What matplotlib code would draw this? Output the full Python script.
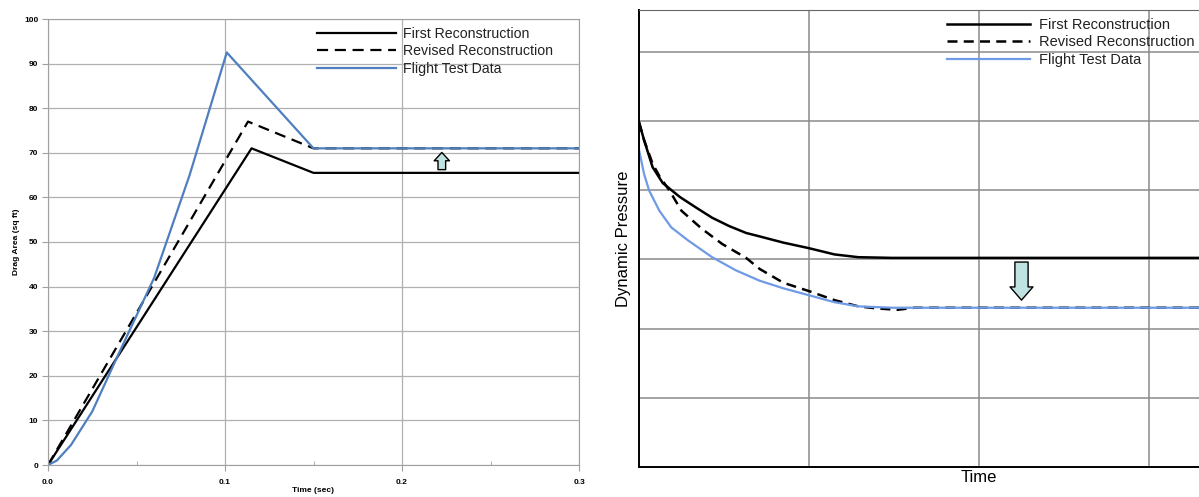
import matplotlib.pyplot as plt
from matplotlib.ticker import MultipleLocator

plt.rcParams['font.family'] = ['Liberation Sans', 'DejaVu Sans']

# ---- left chart: drag area vs time ----
t_first = [0.0, 0.115, 0.150, 0.300]
a_first = [0.0, 71.0, 65.5, 65.5]

t_rev = [0.0, 0.113, 0.150, 0.300]
a_rev = [0.0, 77.0, 71.0, 71.0]

t_flight = [0.0, 0.005, 0.013, 0.025, 0.040, 0.060, 0.080, 0.101, 0.150, 0.300]
a_flight = [0.0, 1.0, 4.5, 12.0, 25.0, 42.0, 65.0, 92.5, 71.0, 71.0]

arrow_left_x = 0.2225
arrow_left_from = 65.6
arrow_left_to = 70.7

# ---- right chart: dynamic pressure vs time (no units) ----
t2_first = [0.0, 0.03, 0.08, 0.14, 0.24, 0.34, 0.43, 0.53, 0.63, 0.71, 0.85,
            1.00, 1.15, 1.29, 1.49, 3.40]
q_first = [4.98, 4.72, 4.33, 4.10, 3.90, 3.74, 3.60, 3.48, 3.38, 3.33, 3.24,
           3.16, 3.07, 3.03, 3.02, 3.02]

t2_rev = [0.0, 0.03, 0.08, 0.12, 0.18, 0.25, 0.37, 0.49, 0.63, 0.71, 0.85,
          1.00, 1.15, 1.29, 1.40, 1.52, 1.62, 3.40]
q_rev = [4.98, 4.72, 4.38, 4.20, 3.99, 3.70, 3.44, 3.22, 3.02, 2.86, 2.66,
         2.54, 2.41, 2.32, 2.29, 2.27, 2.30, 2.30]

t2_flight = [0.0, 0.03, 0.06, 0.12, 0.19, 0.29, 0.43, 0.57, 0.71, 0.85,
             1.00, 1.15, 1.29, 1.49, 3.40]
q_flight = [4.58, 4.23, 3.99, 3.70, 3.46, 3.27, 3.03, 2.84, 2.69, 2.58,
            2.48, 2.38, 2.32, 2.30, 2.30]

arrow_right_x = 2.25
arrow_right_from = 3.0
arrow_right_to = 2.37

labels = ['First Reconstruction', 'Revised Reconstruction', 'Flight Test Data']
arrow_fill = '#bfe3e0'

fig = plt.figure(figsize=(11.99, 4.97), dpi=100)

# left axes
ax1 = fig.add_axes([48/1199, 1-465/497, 531/1199, 446/497])
ax1.plot(t_first, a_first, color='black', lw=1.6, label=labels[0])
ax1.plot(t_rev, a_rev, color='black', lw=1.6, ls=(0, (5, 3)), label=labels[1])
ax1.plot(t_flight, a_flight, color='#4f7fbf', lw=1.6, label=labels[2])
ax1.set_xlim(0, 0.3)
ax1.set_ylim(0, 100)
ax1.set_xticks([0.0, 0.1, 0.2, 0.3])
ax1.set_xticklabels(['0.0', '0.1', '0.2', '0.3'])
ax1.set_xticks([0.05, 0.15, 0.25], minor=True)
ax1.yaxis.set_major_locator(MultipleLocator(10))
ax1.grid(True, color='#b0b0b0', lw=0.9)
ax1.set_axisbelow(True)
for s in ax1.spines.values():
    s.set_color('#a0a0a0')
ax1.tick_params(axis='both', which='major', labelsize=6, color='#a0a0a0', length=4)
ax1.tick_params(axis='x', which='minor', color='#a0a0a0', length=3, direction='in')
ax1.tick_params(axis='x', which='major', direction='out', pad=6)
ax1.tick_params(axis='y', direction='out', pad=3)
for lab in ax1.get_xticklabels() + ax1.get_yticklabels():
    lab.set_fontweight('bold')
ax1.set_xlabel('Time (sec)', fontsize=6, fontweight='bold', labelpad=1)
ax1.set_ylabel('Drag Area (sq ft)', fontsize=6, fontweight='bold', labelpad=3)
ax1.annotate('', xy=(arrow_left_x, arrow_left_to), xytext=(arrow_left_x, arrow_left_from),
             arrowprops=dict(arrowstyle='simple,head_width=1.1,head_length=0.6,tail_width=0.55',
                             fc=arrow_fill, ec='black', lw=1.0))
leg1 = ax1.legend(loc='upper left', bbox_to_anchor=(0.488, 1.005), frameon=False, fontsize=10.2,
                  handlelength=5.6, handletextpad=0.5, labelspacing=0.25, borderaxespad=0.3)
for txt in leg1.get_texts():
    txt.set_color('#222222')

# right axes (extends past the right edge of the figure)
ax2 = fig.add_axes([639/1199, 1-467/497, 680/1199, 457/497])
ax2.plot(t2_first, q_first, color='black', lw=1.8, label=labels[0])
ax2.plot(t2_rev, q_rev, color='black', lw=1.8, ls=(0, (4, 2.5)), label=labels[1])
ax2.plot(t2_flight, q_flight, color='#6f9ae6', lw=1.6, label=labels[2])
ax2.set_xlim(0, 4)
ax2.set_ylim(0, 6.6)
ax2.set_xticks([1, 2, 3])
ax2.set_yticks([1, 2, 3, 4, 5, 6])
ax2.tick_params(axis='both', length=0, labelbottom=False, labelleft=False)
ax2.grid(True, color='#8a8a8a', lw=1.1)
ax2.set_axisbelow(True)
ax2.spines['left'].set_color('black')
ax2.spines['bottom'].set_color('black')
ax2.spines['top'].set_color('#666666')
ax2.spines['left'].set_linewidth(1.4)
ax2.spines['bottom'].set_linewidth(1.4)
ax2.set_xlabel('Time', fontsize=12, labelpad=2)
ax2.set_ylabel('Dynamic Pressure', fontsize=12, labelpad=6)
ax2.annotate('', xy=(arrow_right_x, arrow_right_to), xytext=(arrow_right_x, arrow_right_from),
             arrowprops=dict(arrowstyle='simple,head_width=1.65,head_length=0.95,tail_width=0.95',
                             fc=arrow_fill, ec='black', lw=1.0))
leg2 = ax2.legend(loc='upper left', bbox_to_anchor=((936-639)/680, 1.006), frameon=False, fontsize=10.5,
                  handlelength=5.7, handletextpad=0.6, labelspacing=0.22, borderaxespad=0.35)
for txt in leg2.get_texts():
    txt.set_color('#222222')

fig.savefig('out.png', dpi=100)
